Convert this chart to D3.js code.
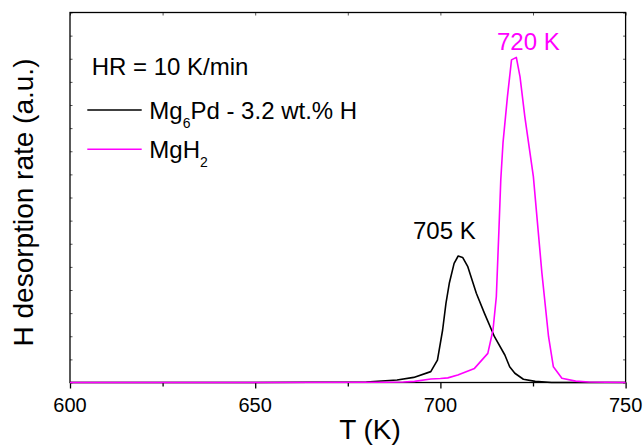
<!DOCTYPE html>
<html>
<head>
<meta charset="utf-8">
<script src="https://cdn.jsdelivr.net/npm/d3@7/dist/d3.min.js"></script>
<style>
  html, body { margin: 0; padding: 0; background: #fff; }
  svg text { font-family: "Liberation Sans", Arial, sans-serif; }
</style>
</head>
<body>
<svg id="chart" width="643" height="446"></svg>
<script>
// ---- data ----
const mg6pdT = [600, 650, 680, 688.3, 692.8, 697.4, 699.2, 700.6, 701.5, 702.4, 703.7, 704.8, 706, 707.4, 709.7, 711.9, 714.6, 717.4, 718.7, 720.1, 722.4, 725.6, 730, 750];
const mg6pdV = [0, 0, 0.02, 0.11, 0.22, 0.47, 0.97, 2.27, 3.42, 4.29, 5.15, 5.47, 5.41, 5.01, 3.86, 2.99, 1.98, 1.19, 0.68, 0.40, 0.14, 0.05, 0, 0];
const mgh2T = [600, 650, 685, 690, 693, 697.4, 700, 702, 704.7, 709.2, 712.8, 714.2, 715.1, 715.8, 716.3, 716.9, 718.1, 719.2, 720.5, 721.5, 722.8, 725.1, 727.4, 729.2, 730.5, 732.8, 736.5, 740, 750];
const mgh2V = [0, 0, 0.01, 0.02, 0.05, 0.15, 0.17, 0.2, 0.32, 0.61, 1.26, 2.27, 3.71, 6.59, 8.76, 10.36, 12.36, 13.95, 14.06, 13.22, 11.49, 8.9, 4.74, 1.98, 0.68, 0.18, 0.06, 0.02, 0];
const xTickMajor = [600, 650, 700, 750];
const xTickMinor = [625, 675, 725];
const yTicks = d3.range(0, 17, 1);

const svg = d3.select("#chart");
const L = 70, R = 625.6, T = 12.5, B = 382.5;
const x = d3.scaleLinear().domain([600, 750]).range([L, R]);
const y = d3.scaleLinear().domain([0, 16]).range([B, T]);

const g = svg.append("g");
// bottom major (outward)
g.append("g").attr("transform", `translate(0,${B})`)
  .call(d3.axisBottom(x).tickValues(xTickMajor).tickSize(6).tickFormat(""))
  .call(a => a.select(".domain").remove())
  .call(a => a.selectAll("line").attr("stroke", "#000").attr("stroke-width", 1.3));
g.append("g").attr("transform", `translate(0,${B})`)
  .call(d3.axisBottom(x).tickValues(xTickMinor).tickSize(4).tickFormat(""))
  .call(a => a.select(".domain").remove())
  .call(a => a.selectAll("line").attr("stroke", "#000").attr("stroke-width", 1.3));
// top ticks (inward)
g.append("g").attr("transform", `translate(0,${T})`)
  .call(d3.axisBottom(x).tickValues(xTickMajor.concat(xTickMinor)).tickSize(3).tickFormat(""))
  .call(a => a.select(".domain").remove())
  .call(a => a.selectAll("line").attr("stroke", "#555").attr("stroke-width", 1));
// left / right ticks (inward, tiny)
g.append("g").attr("transform", `translate(${L},0)`)
  .call(d3.axisRight(y).tickValues(yTicks).tickSize(2.5).tickFormat(""))
  .call(a => a.select(".domain").remove())
  .call(a => a.selectAll("line").attr("stroke", "#555").attr("stroke-width", 1));
g.append("g").attr("transform", `translate(${R},0)`)
  .call(d3.axisLeft(y).tickValues(yTicks).tickSize(2.5).tickFormat(""))
  .call(a => a.select(".domain").remove())
  .call(a => a.selectAll("line").attr("stroke", "#555").attr("stroke-width", 1));

// tick labels
g.selectAll("text.xt").data(xTickMajor).enter().append("text")
  .attr("x", d => x(d)).attr("y", 411.5)
  .attr("text-anchor", "middle").attr("font-size", 20).attr("fill", "#000")
  .text(d => d);

// frame
svg.append("rect").attr("x", L).attr("y", T).attr("width", R - L).attr("height", B - T)
  .attr("fill", "none").attr("stroke", "#000").attr("stroke-width", 1.3);

// curves
const line = d3.line().x(d => x(d[0])).y(d => y(d[1]));
const blackData = mg6pdT.map((t, i) => [t, mg6pdV[i]]);
const magData = mgh2T.map((t, i) => [t, mgh2V[i]]);
svg.append("path").datum(blackData).attr("d", line)
  .attr("fill", "none").attr("stroke", "#000").attr("stroke-width", 1.6).attr("stroke-linejoin", "round");
svg.append("path").datum(magData).attr("d", line)
  .attr("fill", "none").attr("stroke", "#ff00ff").attr("stroke-width", 1.6).attr("stroke-linejoin", "round");

// axis titles
svg.append("text").attr("x", 370).attr("y", 439.3).attr("text-anchor", "middle")
  .attr("font-size", 28).attr("fill", "#000").text("T (K)");
svg.append("text").attr("transform", `translate(33.3,202.5) rotate(-90)`).attr("text-anchor", "middle")
  .attr("font-size", 28).attr("fill", "#000").text("H desorption rate (a.u.)");

// annotations
svg.append("text").attr("x", 413).attr("y", 239.3).attr("font-size", 24).attr("fill", "#000").text("705 K");
svg.append("text").attr("x", 497).attr("y", 50).attr("font-size", 24).attr("fill", "#ff00ff").text("720 K");
svg.append("text").attr("x", 91.7).attr("y", 75).attr("font-size", 24).attr("fill", "#000").text("HR = 10 K/min");

// legend
svg.append("line").attr("x1", 87.3).attr("x2", 141.7).attr("y1", 110).attr("y2", 110)
  .attr("stroke", "#000").attr("stroke-width", 1.6);
const t1 = svg.append("text").attr("x", 149.3).attr("y", 119.3).attr("font-size", 24).attr("fill", "#000");
t1.append("tspan").text("Mg");
t1.append("tspan").attr("font-size", 14).attr("dy", 8.5).text("6");
t1.append("tspan").attr("dy", -8.5).text("Pd - 3.2 wt.% H");

svg.append("line").attr("x1", 87.3).attr("x2", 141.7).attr("y1", 149.3).attr("y2", 149.3)
  .attr("stroke", "#ff00ff").attr("stroke-width", 1.6);
const t2 = svg.append("text").attr("x", 149.3).attr("y", 158.3).attr("font-size", 24).attr("fill", "#000");
t2.append("tspan").text("MgH");
t2.append("tspan").attr("font-size", 14).attr("dy", 9).text("2");
</script>
</body>
</html>
